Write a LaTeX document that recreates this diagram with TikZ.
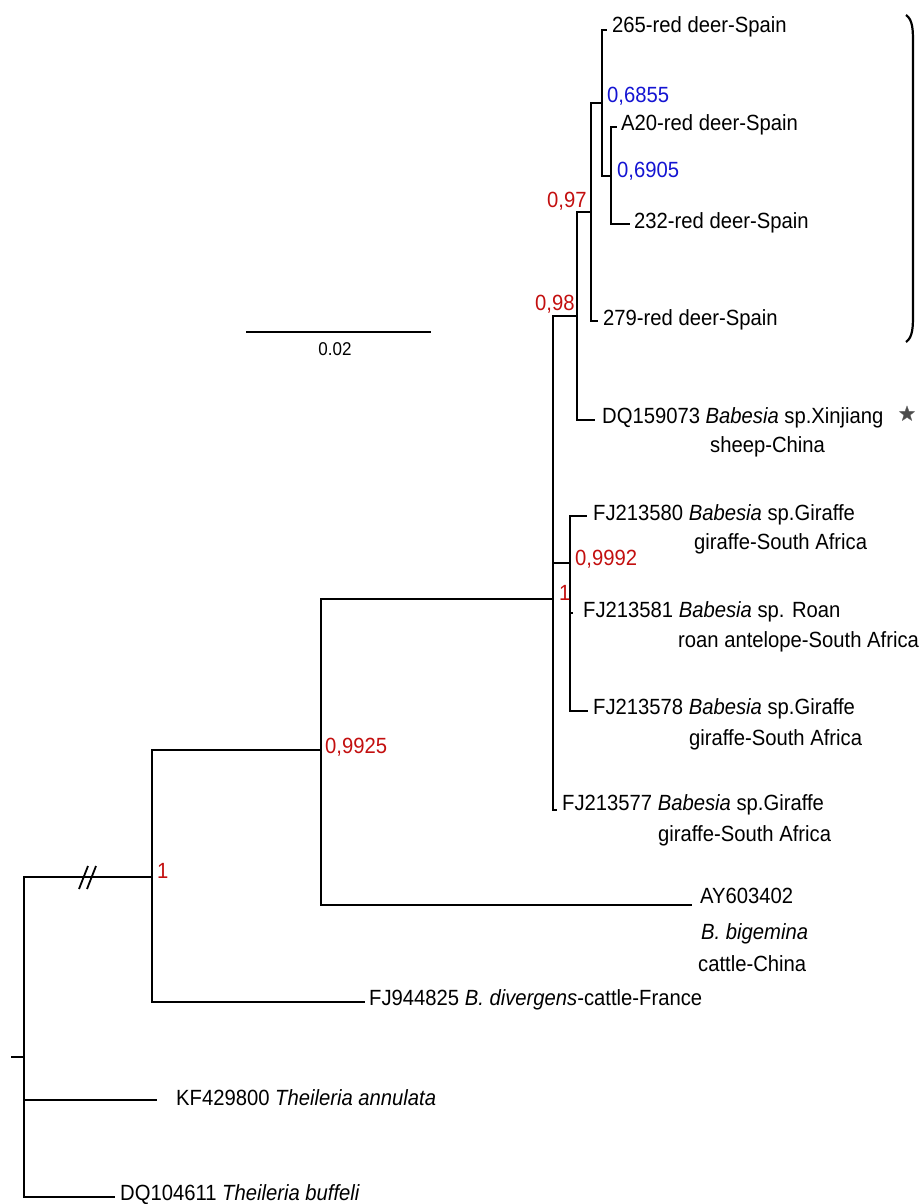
\documentclass[tikz,border=0pt]{standalone}
\usepackage{fontspec}
\setmainfont{Liberation Sans}[FakeStretch=0.92]
\usetikzlibrary{shapes.geometric}
\definecolor{suppred}{RGB}{195,15,15}
\definecolor{suppblue}{RGB}{20,20,210}
\begin{document}
\begin{tikzpicture}[x=1pt,y=-1pt,
  branch/.style={line width=2.9pt, line join=miter},
  taxon/.style={anchor=base west, inner sep=0pt, font=\fontsize{22}{26}\selectfont},
  supp/.style={anchor=base west, inner sep=0pt, font=\fontsize{22}{26}\selectfont, text=suppred},
  suppb/.style={supp, text=suppblue}]
\useasboundingbox (0,0) rectangle (921,1204);

% internal nodes
\coordinate (tick) at (11,1057);
\coordinate (R)  at (24,1057);
\coordinate (brk) at (116,877);
\coordinate (N1) at (152,877);
\coordinate (N2) at (321,750);
\coordinate (N3) at (553,599);
\coordinate (N4) at (577,316);
\coordinate (N5) at (591,212);
\coordinate (N6) at (602,103);
\coordinate (N7) at (611,176);
\coordinate (N8) at (570,563);

% leaf tips
\coordinate (L265) at (607,30);
\coordinate (LA20) at (617,127);
\coordinate (L232) at (630,224);
\coordinate (L279) at (598,321);
\coordinate (LDQ1) at (595,420);
\coordinate (LFJ80) at (587,516);
\coordinate (LFJ81) at (573,613);
\coordinate (LFJ78) at (588,711);
\coordinate (LFJ77) at (557,810);
\coordinate (LAY) at (692,905);
\coordinate (LFJ44) at (365,1002);
\coordinate (LKF) at (157,1100);
\coordinate (LDQ2) at (115,1197);

% branches
\draw[branch] (tick) -- (R);
\draw[branch, line width=2.3pt] (R) |- (brk);
\draw[branch] (brk) -- (N1);
\draw[branch] (R) |- (LKF);
\draw[branch] (R) |- (LDQ2);
\draw[branch] (N1) |- (N2);
\draw[branch] (N1) |- (LFJ44);
\draw[branch] (N2) |- (N3);
\draw[branch] (N2) |- (LAY);
\draw[branch] (N3) |- (N4);
\draw[branch] (N3) |- (N8);
\draw[branch] (N3) |- (LFJ77);
\draw[branch] (N4) |- (N5);
\draw[branch] (N4) |- (LDQ1);
\draw[branch] (N5) |- (N6);
\draw[branch] (N5) |- (L279);
\draw[branch] (N6) |- (L265);
\draw[branch] (N6) |- (N7);
\draw[branch] (N7) |- (LA20);
\draw[branch] (N7) |- (L232);
\draw[branch] (N8) |- (LFJ80);
\draw[branch] (N8) |- (LFJ81);
\draw[branch] (N8) |- (LFJ78);

% break mark
\coordinate (s1a) at (79,889); \coordinate (s1b) at (88,866);
\coordinate (s2a) at (87,889); \coordinate (s2b) at (96,866);
\draw[line width=1.8pt] (s1a) -- (s1b);
\draw[line width=1.8pt] (s2a) -- (s2b);

% taxon labels
\node[taxon] (t265) at (612,33) {265-red deer-Spain};
\node[taxon] (tA20) at (621,131) {A20-red deer-Spain};
\node[taxon] (t232) at (634,228) {232-red deer-Spain};
\node[taxon] (t279) at (603,325) {279-red deer-Spain};
\node[taxon] (tDQ1) at (602,423) {DQ159073 \textit{Babesia} sp.Xinjiang};
\node[taxon] (tDQ1b) at (710,452) {sheep-China};
\node[taxon] (tFJ80) at (593,520) {FJ213580 \textit{Babesia} sp.Giraffe};
\node[taxon] (tFJ80b) at (694,549) {giraffe-South Africa};
\node[taxon] (tFJ81) at (583,617) {FJ213581 \textit{Babesia} sp. Roan};
\node[taxon] (tFJ81b) at (678,647) {roan antelope-South Africa};
\node[taxon] (tFJ78) at (593,714) {FJ213578 \textit{Babesia} sp.Giraffe};
\node[taxon] (tFJ78b) at (689,745) {giraffe-South Africa};
\node[taxon] (tFJ77) at (562,810) {FJ213577 \textit{Babesia} sp.Giraffe};
\node[taxon] (tFJ77b) at (658,841) {giraffe-South Africa};
\node[taxon] (tAY) at (700,903) {AY603402};
\node[taxon] (tAYb) at (701,939) {\textit{B. bigemina}};
\node[taxon] (tAYc) at (698,971) {cattle-China};
\node[taxon] (tFJ44) at (369,1005) {FJ944825 \textit{B. divergens}-cattle-France};
\node[taxon] (tKF) at (176,1105) {KF429800 \textit{Theileria annulata}};
\node[taxon] (tDQ2) at (120,1200) {DQ104611 \textit{Theileria buffeli}};

% support values
\node[suppb] (s6) at (607,103) {0,6855};
\node[suppb] (s7) at (617,177) {0,6905};
\node[supp] (s5) at (547,207) {0,97};
\node[supp] (s4) at (535,310) {0,98};
\node[supp] (s8) at (575,565) {0,9992};
\node[supp] (s3) at (559,600) {1};
\node[supp] (s2) at (325,753) {0,9925};
\node[supp] (s1) at (157,878) {1};

% star
\node[star, star points=5, star point ratio=2.4, fill=black!70, draw=black!60, line width=0.4pt, inner sep=0pt, minimum size=16pt] (star) at (907,414) {};

% bracket
\coordinate (bt) at (906,15);
\coordinate (bb) at (906,342);
\draw[line width=2.2pt] (bt) .. controls (913,20) and (913,30) .. (913,45) -- (913,312) .. controls (913,327) and (913,337) .. (bb);

% scale bar
\coordinate (sbl) at (246,332);
\coordinate (sbr) at (431,332);
\draw[line width=2.6pt] (sbl) -- (sbr);
\node[anchor=base, inner sep=0pt, font=\fontsize{18.5}{22}\selectfont] (sblab) at (335,355) {0.02};
\end{tikzpicture}
\end{document}
